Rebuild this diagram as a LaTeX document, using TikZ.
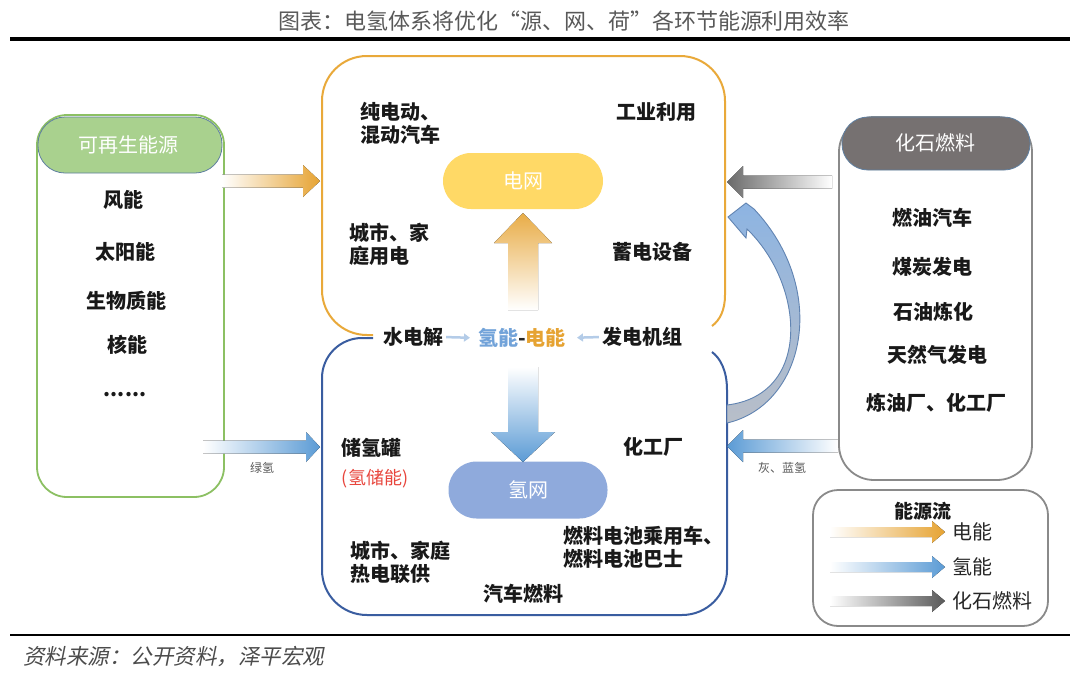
\documentclass[tikz,border=0pt]{standalone}
\usepackage{fontspec}
\setmainfont{Noto Sans CJK SC}
\newfontfamily\slantf{Noto Sans CJK SC}[FakeSlant=0.2]
\usetikzlibrary{arrows.meta}
\definecolor{orng}{HTML}{E6A332}
\definecolor{orngbox}{HTML}{E9A93A}
\definecolor{bluarr}{HTML}{5B9BD5}
\definecolor{hblue}{HTML}{72A3D9}
\definecolor{blubox}{HTML}{3A5DA0}
\definecolor{grnbox}{HTML}{8CC063}
\definecolor{grnfill}{HTML}{A9D18E}
\definecolor{gryhead}{HTML}{767171}
\definecolor{grybox}{HTML}{8A8A8A}
\definecolor{ylwpill}{HTML}{FFD966}
\definecolor{blupill}{HTML}{8FAADC}
\definecolor{hdredge}{HTML}{5F7FA0}
\definecolor{txtred}{HTML}{E8453C}
\definecolor{curvetop}{HTML}{8DB4E2}
\definecolor{curvebot}{HTML}{B8BEC8}
\definecolor{curveedge}{HTML}{6184B2}
\definecolor{midblue}{HTML}{B4CCE8}
\definecolor{fossil}{HTML}{6A6A6A}
\newcommand\harr[7]{\path[#1] (#2,{#4-#5}) -- ({#3-(#7)},{#4-#5}) -- ({#3-(#7)},{#4-#6}) -- (#3,#4) -- ({#3-(#7)},{#4+#6}) -- ({#3-(#7)},{#4+#5}) -- (#2,{#4+#5}) -- cycle;}
\newcommand\varr[7]{\path[#1] ({#2-#5},#3) -- ({#2-#5},{#4-(#7)}) -- ({#2-#6},{#4-(#7)}) -- (#2,#4) -- ({#2+#6},{#4-(#7)}) -- ({#2+#5},{#4-(#7)}) -- ({#2+#5},#3) -- cycle;}
\tikzset{
  item/.style={font=\fontsize{20}{23}\selectfont\bfseries, text=black!90, inner sep=0pt},
  itemL/.style={item, align=left, anchor=west},
  hdr/.style={font=\fontsize{20}{23}\selectfont, text=white, inner sep=0pt},
  smalllab/.style={font=\fontsize{12}{14}\selectfont, text=black!65, inner sep=0pt},
  leglab/.style={font=\fontsize{20}{23}\selectfont, text=black!85, inner sep=0pt, anchor=west},
  midarr/.style={draw=midblue, line width=2.5pt, -{Triangle[length=6pt,width=8pt]}},
}
\begin{document}
\begin{tikzpicture}[x=1pt,y=-1pt]
\useasboundingbox (0,0) rectangle (1080,673);
\fill[white] (0,0) rectangle (1080,673);
% title and rules
\node[font=\fontsize{22}{24}\selectfont, text=black!65, inner sep=0pt] (title) at (564,21) {图表：电氢体系将优化“源、网、荷”各环节能源利用效率};
\draw[line width=4pt] (10,39) -- (1070,39);
\draw[line width=2.5pt] (10,635) -- (1070,635);
\node[font=\fontsize{21.5}{24}\selectfont\slantf, text=black!70, anchor=west, inner sep=0pt] (src) at (23,657) {资料来源：公开资料，泽平宏观};

% left green box
\draw[grnbox, line width=1.8pt, rounded corners=30] (37,115) rectangle (224,497);
\draw[hdredge, line width=0.8pt, fill=grnfill, rounded corners=27] (38,117) rectangle (222,173);
\node[hdr] (renew) at (128,145) {可再生能源};
\node[item] (wind) at (123,200) {风能};
\node[item] (solar) at (125,252) {太阳能};
\node[item] (bio) at (126,301) {生物质能};
\node[item] (nuc) at (127,345) {核能};
\node[item, anchor=base] (dots) at (125,396) {......};

% right gray box
\draw[grybox, line width=1.8pt, rounded corners=35] (839,117) rectangle (1032,480);
\draw[hdredge, line width=0.8pt, fill=gryhead, rounded corners=26] (842,117) rectangle (1030,170);
\node[hdr] (fossilhdr) at (935,143) {化石燃料};
\node[item] (f1) at (932,218) {燃油汽车};
\node[item] (f2) at (932,267) {煤炭发电};
\node[item] (f3) at (933,312) {石油炼化};
\node[item] (f4) at (937,355) {天然气发电};
\node[item] (f5) at (936,403) {炼油厂、化工厂};

% top orange box
\draw[orngbox, line width=2pt] (373,335) -- (367,335) .. controls (342,335) and (322,315) .. (322,290) -- (322,101) .. controls (322,76) and (342,56) .. (367,56) -- (680,56) .. controls (705,56) and (725,76) .. (725,101) -- (725,295) .. controls (725,310) and (720,320) .. (712,326);
% bottom blue box
\draw[blubox, line width=2pt] (373,338) -- (362,338) .. controls (340,338) and (322,356) .. (322,378) -- (322,570) .. controls (322,595) and (342,615) .. (367,615) -- (682,615) .. controls (707,615) and (727,595) .. (727,570) -- (727,390) .. controls (727,370) and (720,358) .. (712,352);

% grid pills
\node[fill=ylwpill, rounded corners=28, minimum width=160pt, minimum height=56pt, inner sep=0pt, font=\fontsize{20}{23}\selectfont, text=white] (egrid) at (523,181) {电网};
\node[fill=blupill, rounded corners=28, minimum width=159pt, minimum height=57pt, inner sep=0pt, font=\fontsize{20}{23}\selectfont, text=white] (hgrid) at (528,490) {氢网};

% top box texts
\node[itemL] (ev) at (360,123) {纯电动、\\混动汽车};
\node[item] (ind) at (656,112) {工业利用};
\node[itemL] (home1) at (349,244) {城市、家\\庭用电};
\node[item] (stor) at (652,252) {蓄电设备};

% middle row
\node[item] (sdj) at (413,337) {水电解};
\node[item] (hn) at (522,338) {\textcolor{hblue}{氢能}\textcolor{black!85}{-}\textcolor{orng}{电能}};
\node[item] (fd) at (642,337) {发电机组};
\draw[midarr, shorten <=3pt, shorten >=8pt] (sdj.east) -- (hn.west);
\draw[midarr, shorten <=3pt, shorten >=11pt] (fd.west) -- (hn.east);

% bottom box texts
\node[item] (tank) at (371,448) {储氢罐};
\node[font=\fontsize{18}{20}\selectfont, text=txtred, inner sep=0pt] (hstore) at (375,479) {(氢储能)};
\node[item] (chem) at (653,447) {化工厂};
\node[itemL] (chp) at (350,562) {城市、家庭\\热电联供};
\node[itemL] (fc) at (563,547) {燃料电池乘用车、\\燃料电池巴士};
\node[item] (fuel) at (523,594) {汽车燃料};

% vertical block arrows
\varr{fill, top color=orng!90, bottom color=white}{523}{310}{213}{15}{29}{-30}
\varr{fill, top color=white, bottom color=bluarr}{523}{367}{462}{15}{32}{30}

% horizontal block arrows
\harr{fill, left color=white, right color=orng}{222}{320}{181}{6.5}{16}{17}
\harr{fill, left color=white, right color=bluarr}{203}{320}{447}{6.5}{15}{14}
\node[smalllab] (green) at (262,468) {绿氢};
\harr{fill, left color=fossil, right color=white}{832}{727}{182}{6.5}{16}{-16}
\harr{fill, left color=bluarr, right color=white}{838}{727}{446}{6.5}{16}{-16}
\node[smalllab] (grayblue) at (782,468) {灰、蓝氢};

% curved arrow
\path[draw=curveedge, line width=0.9pt, top color=curvetop, bottom color=curvebot] (727,423) .. controls (805,405) and (830,290) .. (754,209) -- (746,203) -- (728,217) -- (746,238) -- (747,229) .. controls (805,285) and (812,395) .. (727,405) -- cycle;

% legend
\draw[grybox, line width=1.8pt, rounded corners=25] (813,490) rectangle (1048,626);
\node[item, font=\fontsize{19}{22}\selectfont\bfseries] (legt) at (923,511) {能源流};
\harr{fill, left color=white, right color=orng}{830}{945}{532}{5}{11}{13}
\node[leglab] (le) at (952,532) {电能};
\harr{fill, left color=white, right color=bluarr}{830}{945}{567}{5}{11}{13}
\node[leglab] (lh) at (952,567) {氢能};
\harr{fill, left color=white, right color=black!65}{830}{945}{601}{5}{11}{13}
\node[leglab] (lf) at (952,601) {化石燃料};
\end{tikzpicture}
\end{document}
